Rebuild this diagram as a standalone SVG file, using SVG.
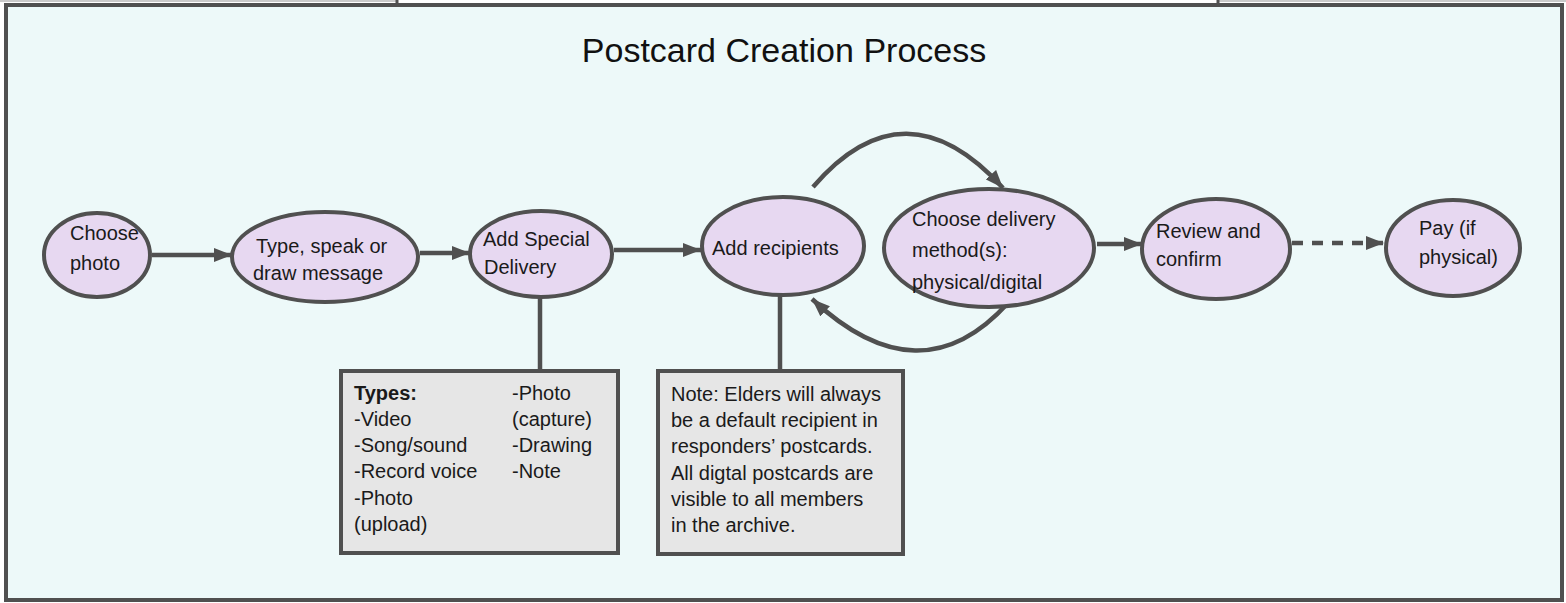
<svg xmlns="http://www.w3.org/2000/svg" width="1566" height="603" viewBox="0 0 1566 603">
<style>
  .node { fill: #e7d8f1; stroke: #505050; stroke-width: 4; }
  .box { fill: #e6e6e6; stroke: #505050; stroke-width: 4; }
  .t { font-family: "Liberation Sans", Arial, sans-serif; font-size: 20px; fill: #1a1a1a; }
  .b { font-weight: bold; }
  .edge { fill: none; stroke: #505050; stroke-width: 4.5; }
</style>
<defs>
  <marker id="arr" markerUnits="userSpaceOnUse" markerWidth="20" markerHeight="14" refX="18" refY="7" orient="auto">
    <path d="M0,0 L18,7 L0,14 z" fill="#505050"/>
  </marker>
</defs>
<rect x="0" y="0" width="1566" height="603" fill="#ffffff"/>
<g id="cutoff">
  <line x1="0" y1="1" x2="397" y2="1" stroke="#b8b8b8" stroke-width="1.5"/>
  <line x1="1218" y1="1" x2="1566" y2="1" stroke="#b8b8b8" stroke-width="1.5"/>
  <line x1="397" y1="0" x2="397" y2="5" stroke="#505050" stroke-width="3"/>
  <line x1="1218" y1="0" x2="1218" y2="5" stroke="#505050" stroke-width="3"/>
</g>
<rect id="frame" x="6" y="5" width="1556" height="595" fill="#edf9f9" stroke="#505050" stroke-width="4"/>
<text id="title" x="784" y="62" text-anchor="middle" font-family="Liberation Sans, Arial, sans-serif" font-size="34" fill="#111">Postcard Creation Process</text>

<g id="connectors">
  <line class="edge" x1="152" y1="255" x2="232" y2="255" marker-end="url(#arr)"/>
  <line class="edge" x1="420" y1="253" x2="470" y2="253" marker-end="url(#arr)"/>
  <line class="edge" x1="614" y1="250" x2="701" y2="250" marker-end="url(#arr)"/>
  <path class="edge" d="M 813 187 Q 905 80 1003 188" marker-end="url(#arr)"/>
  <path class="edge" d="M 1008 303 Q 920 400 812 299" marker-end="url(#arr)"/>
  <line class="edge" x1="1097" y1="244" x2="1142" y2="244" stroke-width="6" marker-end="url(#arr)"/>
  <line class="edge" x1="1292" y1="243" x2="1384" y2="243" stroke-width="5" stroke-dasharray="11 9" marker-end="url(#arr)"/>
  <line class="edge" x1="540" y1="297" x2="540" y2="371"/>
  <line class="edge" x1="780" y1="296" x2="780" y2="371"/>
</g>

<g id="n1">
  <ellipse class="node" cx="97" cy="255" rx="53" ry="42"/>
  <text class="t" x="70" y="240">Choose</text>
  <text class="t" x="70" y="270">photo</text>
</g>
<g id="n2">
  <ellipse class="node" cx="325" cy="257" rx="93" ry="45"/>
  <text class="t" x="256" y="253">Type, speak or</text>
  <text class="t" x="253" y="280">draw message</text>
</g>
<g id="n3">
  <ellipse class="node" cx="541" cy="254" rx="71" ry="43"/>
  <text class="t" x="483" y="246">Add Special</text>
  <text class="t" x="484" y="274">Delivery</text>
</g>
<g id="n4">
  <ellipse class="node" cx="783" cy="246" rx="81" ry="49"/>
  <text class="t" x="712" y="255">Add recipients</text>
</g>
<g id="n5">
  <ellipse class="node" cx="989" cy="248" rx="105" ry="59"/>
  <text class="t" x="912" y="226">Choose delivery</text>
  <text class="t" x="912" y="257">method(s):</text>
  <text class="t" x="912" y="289">physical/digital</text>
</g>
<g id="n6">
  <ellipse class="node" cx="1216" cy="249" rx="74" ry="50"/>
  <text class="t" x="1156" y="238">Review and</text>
  <text class="t" x="1156" y="266">confirm</text>
</g>
<g id="n7">
  <ellipse class="node" cx="1453" cy="248" rx="67" ry="48"/>
  <text class="t" x="1419" y="235">Pay (if</text>
  <text class="t" x="1419" y="264">physical)</text>
</g>

<g id="types-box">
  <rect class="box" x="341" y="371" width="277" height="182"/>
  <text class="t b" x="354" y="400">Types:</text>
  <text class="t" x="354" y="426">-Video</text>
  <text class="t" x="354" y="452">-Song/sound</text>
  <text class="t" x="354" y="478">-Record voice</text>
  <text class="t" x="354" y="505">-Photo</text>
  <text class="t" x="354" y="531">(upload)</text>
  <text class="t" x="512" y="400">-Photo</text>
  <text class="t" x="512" y="426">(capture)</text>
  <text class="t" x="512" y="452">-Drawing</text>
  <text class="t" x="512" y="478">-Note</text>
</g>
<g id="note-box">
  <rect class="box" x="658" y="371" width="245" height="183"/>
  <text class="t" x="671" y="401">Note: Elders will always</text>
  <text class="t" x="671" y="427">be a default recipient in</text>
  <text class="t" x="671" y="453">responders’ postcards.</text>
  <text class="t" x="671" y="480">All digtal postcards are</text>
  <text class="t" x="671" y="506">visible to all members</text>
  <text class="t" x="671" y="532">in the archive.</text>
</g>
</svg>
